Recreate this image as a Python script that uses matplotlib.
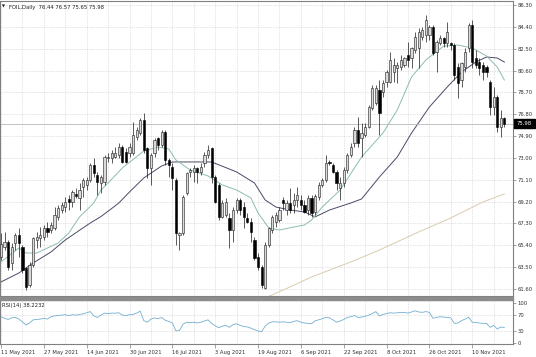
import numpy as np
import matplotlib
matplotlib.use('Agg')
import matplotlib.pyplot as plt
from matplotlib.patches import Rectangle

plt.rcParams['font.family'] = 'DejaVu Sans'

# ---- data (daily candles, 11 May 2021 -> 23 Nov 2021) ----
opens = [64.41, 65.28, 65.72, 63.83, 65.57, 66.30, 65.28, 63.39, 61.95, 63.68,
         65.86, 66.01, 66.15, 66.87, 66.73, 66.87, 67.89, 68.47, 68.76, 69.43,
         69.20, 69.83, 69.49, 70.50, 70.65, 71.08, 72.38, 71.52, 70.79, 70.94,
         72.96, 72.96, 73.11, 73.25, 73.98, 73.54, 73.40, 73.40, 74.85, 75.14,
         76.30, 73.83, 72.10, 73.40, 74.71, 74.12, 75.29, 72.82, 72.24, 71.08,
         66.30, 66.44, 69.92, 71.80, 71.80, 72.10, 71.80, 72.53, 73.25, 73.83,
         71.37, 70.65, 67.89, 68.04, 67.75, 66.73, 68.47, 69.34, 68.76, 67.75,
         67.46, 65.86, 64.41, 63.54, 61.66, 65.43, 66.73, 67.46, 67.60, 69.34,
         68.47, 69.05, 68.90, 69.34, 69.34, 68.90, 68.47, 69.50, 68.30, 69.63,
         70.64, 71.08, 72.67, 72.38, 71.80, 70.36, 70.79, 71.95, 73.25, 74.27,
         75.43, 74.70, 74.99, 75.72, 77.31, 77.75, 78.91, 78.76, 79.63, 79.63,
         80.50, 80.79, 80.94, 81.08, 81.95, 81.66, 82.39, 82.53, 83.55, 83.69,
         83.69, 84.42, 82.24, 82.97, 83.40, 82.97, 82.97, 82.82, 80.94, 79.78,
         80.94, 82.53, 84.56, 81.66, 81.37, 81.08, 80.94, 79.63, 77.46, 78.33, 75.72, 76.44]
highs = [66.44, 66.59, 65.86, 65.57, 66.44, 66.87, 65.43, 63.54, 63.97, 66.15,
         66.59, 67.02, 67.16, 67.45, 67.45, 68.76, 68.90, 69.20, 69.63, 69.77,
         70.21, 70.36, 70.79, 71.23, 71.37, 72.53, 72.96, 71.80, 71.52, 73.25,
         73.40, 73.69, 73.98, 74.27, 74.12, 73.83, 74.27, 76.16, 75.72, 76.45,
         76.88, 73.98, 73.40, 74.71, 74.85, 75.43, 75.43, 72.96, 72.53, 71.23,
         66.59, 69.77, 71.80, 72.10, 72.38, 72.24, 72.53, 73.54, 74.12, 73.98,
         71.52, 70.79, 69.34, 69.49, 68.18, 68.76, 69.49, 69.49, 69.20, 68.18,
         67.75, 66.15, 64.70, 63.68, 65.72, 67.02, 68.04, 68.33, 68.76, 69.63,
         69.34, 70.36, 69.92, 70.50, 69.78, 69.34, 69.78, 69.80, 69.90, 70.93,
         71.22, 73.25, 72.82, 72.53, 71.95, 71.37, 72.24, 73.40, 74.27, 75.72,
         76.59, 76.01, 76.01, 77.60, 79.34, 79.34, 79.78, 79.78, 80.65, 82.24,
         81.66, 81.37, 81.95, 81.81, 83.11, 82.68, 83.98, 84.27, 84.42, 85.43,
         84.56, 84.56, 83.26, 83.69, 83.55, 84.85, 83.11, 82.97, 81.23, 81.37,
         82.53, 84.70, 84.99, 82.39, 81.66, 81.37, 81.08, 79.78, 79.20, 78.47, 77.17, 76.57]
lows = [64.12, 64.99, 63.25, 63.25, 64.99, 64.41, 62.96, 61.51, 61.80, 63.54,
        65.14, 65.28, 65.86, 66.15, 66.44, 66.73, 67.60, 68.18, 68.33, 68.47,
        68.76, 69.49, 68.47, 69.63, 70.21, 70.94, 71.37, 69.77, 69.92, 70.65,
        72.67, 72.53, 72.96, 72.96, 72.53, 72.53, 73.11, 73.25, 74.56, 74.99,
        73.40, 71.23, 70.65, 73.11, 73.69, 73.98, 72.38, 71.37, 70.21, 65.43,
        64.99, 66.30, 69.77, 71.37, 70.94, 70.79, 71.52, 72.24, 72.96, 70.79,
        69.05, 67.60, 67.75, 67.89, 65.14, 65.72, 68.18, 68.04, 66.87, 67.31,
        65.72, 64.12, 63.25, 61.66, 61.57, 65.28, 66.44, 67.02, 67.46, 68.47,
        68.04, 68.18, 68.18, 68.76, 68.47, 68.18, 68.04, 67.90, 68.00, 69.34,
        70.50, 70.93, 72.38, 71.66, 70.21, 69.34, 70.50, 71.66, 73.11, 73.98,
        73.98, 73.11, 74.85, 75.57, 77.17, 77.60, 74.99, 78.33, 79.20, 79.49,
        79.63, 79.49, 80.65, 80.94, 80.94, 80.79, 82.10, 80.79, 83.26, 83.11,
        83.26, 81.95, 80.50, 82.82, 82.68, 82.68, 82.39, 79.78, 78.18, 79.20,
        80.50, 82.24, 80.79, 80.79, 80.21, 79.78, 80.07, 76.73, 76.73, 75.29, 74.85, 75.65]
closes = [65.51, 65.72, 63.54, 65.28, 66.30, 65.57, 63.25, 61.80, 63.68, 66.01,
          66.15, 66.30, 66.87, 66.59, 67.16, 68.04, 68.62, 68.90, 69.20, 69.20,
          70.07, 69.72, 70.21, 71.08, 71.08, 72.38, 71.66, 70.94, 71.37, 73.11,
          73.11, 73.40, 73.40, 73.98, 72.67, 72.67, 73.98, 74.99, 75.43, 76.30,
          73.69, 72.10, 73.25, 74.56, 74.12, 75.29, 72.82, 72.38, 71.23, 66.44,
          66.44, 69.63, 71.66, 71.95, 72.10, 71.80, 72.24, 73.25, 73.69, 71.37,
          69.20, 67.89, 69.05, 69.20, 66.73, 68.47, 69.34, 68.47, 67.89, 67.46,
          66.59, 64.27, 63.54, 61.95, 65.43, 66.87, 67.89, 68.04, 68.47, 69.05,
          69.05, 68.47, 69.34, 69.78, 68.90, 68.33, 69.49, 68.20, 69.70, 70.64,
          71.08, 72.53, 72.53, 71.80, 70.79, 70.79, 71.95, 73.25, 73.98, 75.43,
          74.27, 75.14, 75.72, 77.46, 79.05, 79.05, 76.88, 79.49, 80.50, 81.52,
          81.08, 81.08, 81.52, 81.66, 81.52, 82.53, 83.55, 83.98, 84.13, 84.99,
          84.42, 82.10, 83.11, 83.40, 82.97, 83.98, 82.82, 80.21, 79.49, 81.23,
          82.24, 84.56, 81.37, 81.08, 80.79, 80.50, 80.50, 77.46, 78.33, 75.72, 76.44, 75.98]

# moving averages, points (bar index, price)
ma_fast_bar = [0, 5, 7, 10, 16, 19, 22, 26, 28, 30, 34, 40, 44, 47, 49, 53, 58, 62, 66, 70,
               72, 75, 78, 82, 85, 87, 90, 95, 101, 107, 111, 115, 119, 124, 128, 132, 136, 139, 141]
ma_fast = [63.95, 65.17, 64.73, 64.73, 65.60, 66.47, 67.87, 69.08, 70.21, 70.82, 72.13, 73.60,
           73.95, 73.78, 72.82, 71.95, 71.43, 70.65, 70.21, 69.52, 68.21, 66.91, 66.73, 66.99,
           67.17, 67.60, 68.73, 70.21, 73.08, 75.17, 77.17, 80.04, 81.52, 82.73, 82.82, 82.56,
           81.87, 80.91, 79.78]
ma_slow_bar = [0, 5, 9, 14, 18, 25, 28, 31, 33, 36, 40, 45, 48, 53, 59, 66, 71, 74, 77, 81,
               85, 88, 92, 98, 101, 106, 111, 115, 120, 125, 129, 133, 136, 139, 141]
ma_slow = [62.21, 62.99, 63.86, 64.82, 65.86, 67.34, 67.90, 68.60, 69.08, 70.04, 71.26, 72.30,
           72.65, 72.65, 72.65, 71.78, 70.82, 69.34, 68.73, 68.47, 68.30, 67.87, 68.47, 69.08,
           69.43, 71.34, 73.08, 75.17, 77.43, 79.17, 80.47, 81.34, 81.78, 81.69, 81.34]
ma_200_bar = [74, 81, 87, 98, 106, 117, 126, 135, 141]
ma_200 = [60.82, 61.78, 62.65, 63.95, 64.99, 66.56, 67.78, 69.17, 69.87]

rsi = [66, 62, 59, 63, 64.5, 60, 53, 45, 50, 58,
       59, 60, 62, 60, 66, 68, 69, 70, 71, 69,
       71, 70, 72, 73, 76, 79, 68, 64, 70, 75,
       74, 75, 75, 76, 70, 69, 71, 72, 75, 80,
       56, 52, 60, 63, 61, 64, 57, 54, 50, 30,
       31, 47, 52, 51, 52, 50, 52, 55, 58, 49,
       43, 38, 42, 44, 39, 46, 48, 44, 41, 40,
       37, 33, 30, 28, 42, 50, 53, 53, 52, 53,
       52, 51, 54, 56, 52, 50, 49, 48, 56, 58,
       61, 64.5, 63, 58, 52, 55, 59, 64, 66, 69,
       64, 65, 67, 70, 74, 79, 68, 72, 74, 76,
       75, 76, 77, 77, 75, 78, 81, 78, 77, 79,
       77, 62, 64, 66, 65, 64, 63, 49, 50, 56,
       60, 64.5, 52, 51, 50, 49, 49, 39, 44, 35, 40, 38.2232]

price_ticks = [86.30, 84.40, 82.50, 80.60, 78.70, 76.80, 74.90, 73.00,
               71.10, 69.20, 67.30, 65.40, 63.50, 61.60]
rsi_ticks = [100, 70, 30, 0]
date_labels = ['11 May 2021', '27 May 2021', '14 Jun 2021', '30 Jun 2021', '16 Jul 2021',
               '3 Aug 2021', '19 Aug 2021', '6 Sep 2021', '22 Sep 2021', '8 Oct 2021',
               '26 Oct 2021', '10 Nov 2021']
last_price = 75.98

# ---- layout in pixels ----
W, H = 536, 357
def fx(px):
    return px / W
def fy(py):
    return 1 - py / H

fig = plt.figure(figsize=(W / 100, H / 100), dpi=100)
fig.patch.set_facecolor('white')

ax = fig.add_axes([fx(0), fy(296), fx(513), 295 / H])
ax_rsi = fig.add_axes([fx(0), fy(344), fx(513), 44 / H])

n = len(closes)
x = np.arange(n)
o = np.array(opens); c = np.array(closes)
hi = np.array(highs); lo = np.array(lows)
up = c >= o

TXT = 3.8
GRID = '#c9c9c9'
AXC = '#808080'

# grid
for g in range(0, n + 6, 6):
    ax.axvline(g, color=GRID, lw=0.5, ls=(0, (1, 1.5)), zorder=0)
    ax_rsi.axvline(g, color=GRID, lw=0.5, ls=(0, (1, 1.5)), zorder=0)
for p in price_ticks:
    ax.axhline(p, color=GRID, lw=0.5, ls=(0, (1, 1.5)), zorder=0)
for r in [70, 30]:
    ax_rsi.axhline(r, color=GRID, lw=0.5, ls=(0, (1, 1.5)), zorder=0)

# moving averages
ax.plot(ma_200_bar, ma_200, color='#dacbb0', lw=0.7, zorder=1)
ax.plot(ma_slow_bar, ma_slow, color='#4a4a68', lw=0.7, zorder=1)
ax.plot(ma_fast_bar, ma_fast, color='#8cbcb0', lw=0.7, zorder=1)

# bid line
ax.axhline(last_price, color='#b8b8b8', lw=0.6, zorder=1)

# candles
ax.vlines(x, lo, hi, color='#1a1a1a', lw=0.5, zorder=2)
ax.bar(x[up], (c - o)[up], bottom=o[up], width=0.62, color='#dadada',
       edgecolor='#1a1a1a', lw=0.4, zorder=3)
ax.bar(x[~up], (o - c)[~up], bottom=c[~up], width=0.62, color='black',
       edgecolor='black', lw=0.4, zorder=3)

xlim = (-1 / 3.57, (513 - 1) / 3.57)
ax.set_xlim(*xlim)
ax.set_ylim(60.99, 86.65)
ax.set_xticks([])
ax.yaxis.tick_right()
ax.set_yticks(price_ticks)
ax.set_yticklabels(['%.2f' % p for p in price_ticks])
ax.tick_params(axis='y', labelsize=TXT, length=2, width=0.5, pad=1.5,
               color=AXC, labelcolor='#303030')
for s in ax.spines.values():
    s.set_color(AXC)
    s.set_linewidth(0.8)

# rsi
ax_rsi.plot(x, rsi, color='#72aed0', lw=0.6)
ax_rsi.set_xlim(*xlim)
ax_rsi.set_ylim(-3.3, 108.4)
ax_rsi.yaxis.tick_right()
ax_rsi.set_yticks(rsi_ticks)
ax_rsi.set_yticklabels([str(r) for r in rsi_ticks])
ax_rsi.tick_params(axis='y', labelsize=TXT, length=2, width=0.5, pad=1.5,
                   color=AXC, labelcolor='#303030')
ax_rsi.set_xticks(np.arange(len(date_labels)) * 12)
ax_rsi.set_xticklabels(date_labels)
for lbl in ax_rsi.get_xticklabels():
    lbl.set_horizontalalignment('left')
ax_rsi.tick_params(axis='x', labelsize=TXT, length=3, width=0.5, pad=1.5,
                   color=AXC, labelcolor='#303030')
for s in ax_rsi.spines.values():
    s.set_color(AXC)
    s.set_linewidth(0.8)

# separator between panels
fig.patches.append(Rectangle((fx(0), fy(299.5)), fx(513), 2.5 / H,
                             transform=fig.transFigure, color='#8c8c8c', zorder=5))

# texts
fig.text(fx(2), fy(7), '\u25bc', fontsize=2.8, va='center', ha='left', color='#202020')
fig.text(fx(9), fy(7), 'FOIL,Daily  76.44 76.57 75.65 75.98', fontsize=TXT,
         va='center', ha='left', color='#202020')
fig.text(fx(2), fy(306), 'RSI(14) 38.2232', fontsize=TXT, va='center', ha='left',
         color='#202020')

# last price tag
fig.patches.append(Rectangle((fx(514), fy(128)), fx(21), 9 / H,
                             transform=fig.transFigure, color='black', zorder=5))
fig.text(fx(517), fy(123.5), '%.2f' % last_price, fontsize=TXT, va='center', ha='left',
         color='white', zorder=6)

fig.savefig('out.png', dpi=100)
